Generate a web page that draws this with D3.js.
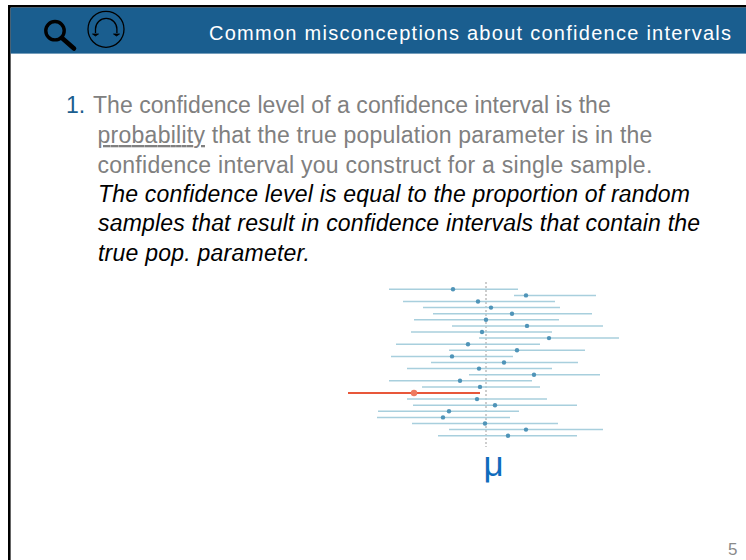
<!DOCTYPE html>
<html>
<head>
<meta charset="utf-8">
<script src="https://cdn.jsdelivr.net/npm/d3@7"></script>
<style>
  html, body { margin: 0; padding: 0; background: #fff; }
  svg { display: block; }
  text { font-family: "Liberation Sans", Arial, sans-serif; }
</style>
</head>
<body>
<svg width="746" height="560"></svg>
<script>
// intervals, in distance from the true mean (mu = 0)
var samples = d3.range(1, 26);
var lows = [-9.7, 2.8, -8.3, -6.3, -5.3, -7.2, -3.4, -7.5, -0.7, -9, -3.7, -9.5, -5.5, -7.9, -1.7, -9.7, -6.4, -13.8, -7.9, -7.3, -10.8, -10.9, -7.4, -3.7, -4.8];
var highs = [3.2, 11, 6.9, 7.4, 10.6, 7.3, 11.7, 6.6, 13.3, 5.4, 9.9, 2.7, 9.2, 6.6, 11.4, 4.6, 5.4, -0.6, 6.1, 9.1, 3.3, 2.4, 7.2, 11.7, 9.1];
var means = [-3.3, 4, -0.8, 0.5, 2.6, 0, 4.1, -0.4, 6.3, -1.8, 3.1, -3.4, 1.8, -0.7, 4.8, -2.6, -0.6, -7.2, -0.9, 0.9, -3.7, -4.3, -0.1, 4, 2.2];
var missed = 18; // the one interval that does not contain mu

var titleText = "Common misconceptions about confidence intervals";
var grayLines = ["The confidence level of a confidence interval is the",
  "that the true population parameter is in the",
  "confidence interval you construct for a single sample."];
var italicLines = ["The confidence level is equal to the proportion of random",
  "samples that result in confidence intervals that contain the",
  "true pop. parameter."];

var svg = d3.select("svg");

//// slide frame and header
svg.append("rect").attr("x", 9.3).attr("y", 6.3).attr("width", 746).attr("height", 570)
  .attr("fill", "#fff").attr("stroke", "#000").attr("stroke-width", 2.6);
svg.append("rect").attr("x", 10.6).attr("y", 7.6).attr("width", 736).attr("height", 46).attr("fill", "#1a5e8f");

svg.append("text").attr("x", 209).attr("y", 39.5).attr("textLength", 522)
  .attr("fill", "#fff").style("font-size", "20px").text(titleText);

//// header icons
var lens = svg.append("g").attr("fill", "none").attr("stroke", "#000");
lens.append("circle").attr("cx", 55).attr("cy", 30.7).attr("r", 9.2).attr("stroke-width", 3.4);
lens.append("line").attr("x1", 62).attr("y1", 38).attr("x2", 74).attr("y2", 48.5)
  .attr("stroke-width", 4.6).attr("stroke-linecap", "round");

var face = svg.append("g").attr("fill", "none").attr("stroke", "#000");
face.append("circle").attr("cx", 106).attr("cy", 29.3).attr("r", 18).attr("stroke-width", 1.3);
face.append("path").attr("d", "M95.5 33V29a10.7 10.7 0 0 1 21.4 0V33").attr("stroke-width", 1.3);
face.append("path").attr("d", "M92.5 34h6l-3 2zM113.5 34h6l-3 2z").attr("fill", "#000").attr("stroke-width", 0.8);

//// body text
function bodyLine(str, xPos, yPos, w, color) {
  return svg.append("text").attr("x", xPos).attr("y", yPos).attr("textLength", w)
    .attr("fill", color).style("font-size", "23px").text(str);
}
svg.append("text").attr("x", 66).attr("y", 113).attr("fill", "#1a5e8f").style("font-size", "23px").text("1.");
bodyLine(grayLines[0], 93, 113, 517.7, "#808080");
bodyLine("probability", 97.5, 143, 107.5, "#808080")
  .style("text-decoration", "underline").style("text-decoration-skip-ink", "none");
bodyLine(grayLines[1], 211.7, 143, 440.6, "#808080");
bodyLine(grayLines[2], 97.5, 173, 554.8, "#808080");
bodyLine(italicLines[0], 98, 202, 592, "#000").style("font-style", "italic");
bodyLine(italicLines[1], 98, 231, 602, "#000").style("font-style", "italic");
bodyLine(italicLines[2], 98, 261, 212, "#000").style("font-style", "italic");

//// confidence intervals
var x = d3.scaleLinear().domain([-14, 14]).range([346, 626]);
var y = d3.scalePoint().domain(samples).range([289.3, 435.7]);

svg.append("line").attr("x1", x(0)).attr("x2", x(0)).attr("y1", 282).attr("y2", 447)
  .attr("stroke", "#bdbdbd").attr("stroke-width", 1.5).attr("stroke-dasharray", "2 2");

var rows = svg.append("g").selectAll("g").data(samples).join("g");
rows.append("line")
  .attr("x1", function (d, i) { return x(lows[i]); })
  .attr("x2", function (d, i) { return x(highs[i]); })
  .attr("y1", function (d) { return y(d); })
  .attr("y2", function (d) { return y(d); })
  .attr("stroke", function (d) { return d == missed ? "#e8573a" : "#a8cfdd"; })
  .attr("stroke-width", function (d) { return d == missed ? 2.2 : 1.5; });
rows.append("circle")
  .attr("cx", function (d, i) { return x(means[i]); })
  .attr("cy", function (d) { return y(d); })
  .attr("r", function (d) { return d == missed ? 3.2 : 2.2; })
  .attr("fill", function (d) { return d == missed ? "#ee7a5f" : "#4f94b8"; });

svg.append("text").attr("x", 493.5).attr("y", 476).attr("text-anchor", "middle")
  .attr("fill", "#0f6cbd").style("font-size", "35px").text("μ");

svg.append("text").attr("x", 737.5).attr("y", 555).attr("text-anchor", "end")
  .attr("fill", "#8a8a8a").style("font-size", "17px").text("5");
</script>
</body>
</html>
